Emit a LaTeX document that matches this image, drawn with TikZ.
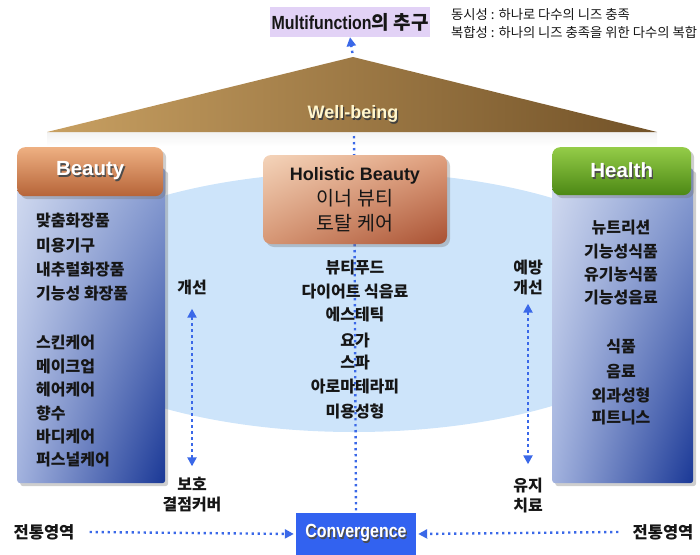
\documentclass[tikz,border=0pt]{standalone}
\usepackage{fontspec}
\setmainfont{Liberation Sans}
\newfontfamily\kr{Noto Sans CJK KR}
\usetikzlibrary{arrows.meta,shadows,shadings,calc}
\definecolor{dotblue}{RGB}{58,104,232}
\definecolor{lav}{RGB}{226,210,246}
\definecolor{skyb}{RGB}{205,228,250}
\definecolor{convb}{RGB}{50,98,240}
\definecolor{goldL}{RGB}{200,160,98}
\definecolor{goldR}{RGB}{114,82,40}
\definecolor{orT}{RGB}{238,176,130}
\definecolor{orB}{RGB}{182,100,56}
\definecolor{grT}{RGB}{148,204,72}
\definecolor{grB}{RGB}{76,136,20}
\definecolor{hoUL}{RGB}{244,212,186}
\definecolor{hoUR}{RGB}{224,160,126}
\definecolor{hoLL}{RGB}{214,150,116}
\definecolor{hoLR}{RGB}{168,80,50}
\definecolor{bdUL}{RGB}{210,219,240}
\definecolor{bdUR}{RGB}{140,160,212}
\definecolor{bdLL}{RGB}{162,178,222}
\definecolor{bdLR}{RGB}{26,56,150}
\definecolor{txt}{RGB}{22,22,22}
\definecolor{cream}{RGB}{255,246,205}
\newcommand\shtxt[2]{\makebox[0pt][l]{\hspace{1.3pt}\raisebox{-1.3pt}{\color{#1}#2}}#2}
\begin{document}
\begin{tikzpicture}[x=1pt,y=-1pt,
  dotln/.style={draw=dotblue, line width=2.4pt, line cap=butt, dash pattern=on 2.4pt off 3.6pt},
  tip/.style={-{Triangle[length=9pt,width=9pt,sharp]}},
  dtip/.style={{Triangle[length=9pt,width=9pt,sharp]}-{Triangle[length=9pt,width=9pt,sharp]}},
  boxshadow/.style={drop shadow={shadow xshift=3pt,shadow yshift=-3pt,opacity=0.35,fill=black!55}},
  item/.style={inner sep=1pt, text=txt, font=\kr\bfseries\fontsize{16}{18}\selectfont},
  sidelbl/.style={inner sep=1pt, text=txt, align=center, font=\kr\bfseries\fontsize{16}{20}\selectfont},
  head/.style={anchor=north west, inner sep=0pt, rounded corners=8pt, text=white,
     font=\bfseries\fontsize{20.5}{22}\selectfont, boxshadow},
  body/.style={anchor=north west, inner sep=0pt, rounded corners=3pt,
     upper left=bdUL, upper right=bdUR, lower left=bdLL, lower right=bdLR, boxshadow}
]
\useasboundingbox (0,0) rectangle (700,554);

% light band under triangle
\shade[top color=black!5, bottom color=white] (47,132) rectangle (657,146);
% light blue field
\begin{scope}
  \clip (160,150) rectangle (556,450);
  \fill[skyb] (354,302) ellipse [x radius=330pt, y radius=130pt];
\end{scope}

% Well-being triangle
\shade[left color=goldL, right color=goldR] (47,132) -- (353,57) -- (657,132) -- cycle;
\coordinate (apex) at (353,57);
\coordinate (wbbase) at (354,136);
\node[inner sep=0pt, text=cream, font=\bfseries\fontsize{18}{19}\selectfont] (wb) at (353,115) {\shtxt{black!75}{Well-being}};

% Multifunction
\node[fill=lav, minimum width=160pt, minimum height=30pt, inner sep=0pt, text=txt] (multi) at (350,22)
  {\bfseries\fontsize{19}{19}\selectfont\scalebox{0.84}[1]{Multifunction}{\kr\bfseries 의 추구}};
\node[anchor=west, align=left, inner sep=0pt, text=txt, font=\kr\fontsize{13.3}{18}\selectfont] (note) at (451,24)
  {동시성 : 하나로 다수의 니즈 충족\\복합성 : 하나의 니즈 충족을 위한 다수의 복합};
\draw[dotln, tip, shorten <=4pt] (apex) -- (multi.south);

% Convergence
\node[fill=convb, minimum width=120pt, minimum height=42pt, inner sep=0pt, text=white,
  font=\bfseries\fontsize{19}{19}\selectfont] (conv) at (356,534)
  {\shtxt{black!70}{\scalebox{0.84}[1]{Convergence}}};

% central dotted line
\draw[dotln] (wbbase) -- (conv.north);

% Beauty column
\node[body, minimum width=148pt, minimum height=315pt] (bbody) at (17,168) {};
\node[head, top color=orT, bottom color=orB, minimum width=146pt, minimum height=49pt] (bhead) at (17,147)
  {\shtxt{black!70}{Beauty}};
\foreach \t/\y [count=\i] in {맞춤화장품/221, 미용기구/246, 내추럴화장품/270, 기능성 화장품/294,
  스킨케어/343, 메이크업/367, 헤어케어/390, 향수/413, 바디케어/437, 퍼스널케어/460}
  \node[item, anchor=west] (b\i) at (35,\y) {\t};

% Health column
\node[body, minimum width=141pt, minimum height=315pt] (hbody) at (552,168) {};
\node[head, top color=grT, bottom color=grB, minimum width=139pt, minimum height=48pt] (hhead) at (552,147)
  {\shtxt{black!70}{Health}};
\foreach \t/\y [count=\i] in {뉴트리션/228, 기능성식품/252, 유기농식품/275, 기능성음료/298,
  식품/347, 음료/372, 외과성형/395, 피트니스/418}
  \node[item] (h\i) at (621,\y) {\t};

% Holistic Beauty
\node[inner sep=0pt, rounded corners=8pt, minimum width=184pt, minimum height=89pt,
  upper left=hoUL, upper right=hoUR, lower left=hoLL, lower right=hoLR, boxshadow,
  align=center, text=txt, font=\fontsize{18}{25}\selectfont] (holi) at (355,199.5)
  {\textbf{Holistic Beauty}\\{\kr\fontsize{19.5}{25}\selectfont 이너 뷰티}\\{\kr\fontsize{19.5}{25}\selectfont 토탈 케어}};

% centre list
\foreach \t/\y [count=\i] in {뷰티푸드/268, 다이어트 식음료/292, 에스테틱/315, 요가/340,
  스파/363, 아로마테라피/387, 미용성형/411}
  \node[item] (c\i) at (355,\y) {\t};

% side labels and arrows
\node[sidelbl] (lup) at (192,287) {개선};
\node[sidelbl] (ldn) at (192,495) {보호\\결점커버};
\draw[dotln, dtip] ($(lup.south)+(0,13)$) -- ($(ldn.north)+(0,-10)$);
\node[sidelbl] (rup) at (528,277) {예방\\개선};
\node[sidelbl] (rdn) at (528,495) {유지\\치료};
\draw[dotln, dtip] ($(rup.south)+(0,8)$) -- ($(rdn.north)+(0,-12)$);

% traditional areas
\node[sidelbl, font=\kr\bfseries\fontsize{16.5}{18}\selectfont] (tl) at (44,532) {전통영역};
\node[sidelbl, font=\kr\bfseries\fontsize{16.5}{18}\selectfont] (tr) at (663,532) {전통영역};
\draw[dotln, tip, shorten >=2pt] ($(tl.east)+(14,0)$) -- (conv.west);
\draw[dotln, tip, shorten >=2pt] ($(tr.west)+(-13,0)$) -- (conv.east);
\end{tikzpicture}
\end{document}
